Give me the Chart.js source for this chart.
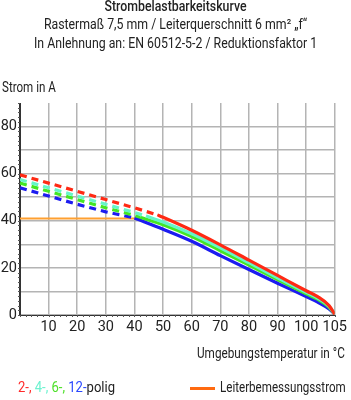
<!DOCTYPE html>
<html lang="de">
  <head>
    <meta charset="UTF-8" />
    <title>Strombelastbarkeitskurve</title>
    <script src="https://cdn.jsdelivr.net/npm/chart.js"></script>
    <style>
      body { margin: 0; background: #fff; overflow: hidden; }
      #wrap { position: relative; width: 351px; height: 400px; font-family: "Roboto", sans-serif; color: #222; }
      #grafico { position: absolute; left: 0; top: 0; }
      .txt { position: absolute; white-space: nowrap; transform-origin: left top; }
      #titulo { left: 0; width: 399px; top: -3px; text-align: center; font-size: 14px; line-height: 18.3px; transform: scaleX(0.88); }
      #titulo b { font-weight: 500; }
      #eixoY { left: 2px; top: 79px; font-size: 14.5px; transform: scaleX(0.8); }
      #eixoX { left: 197px; top: 345px; font-size: 14.5px; transform: scaleX(0.81); }
      #legPolig { left: 18px; top: 379px; font-size: 14.5px; transform: scaleX(0.9); }
      #legLinha { left: 190px; top: 387px; width: 25px; height: 3px; background: #ff6a10; }
      #legTexto { left: 220px; top: 379px; font-size: 14.5px; transform: scaleX(0.8); }
    </style>
  </head>
  <body>
    <div id="wrap">
      <canvas id="grafico" width="351" height="400"></canvas>
      <div class="txt" id="titulo">
        <b>Strombelastbarkeitskurve</b><br />
        Rastermaß 7,5 mm / Leiterquerschnitt 6 mm² „f“<br />
        In Anlehnung an: EN 60512-5-2 / Reduktionsfaktor 1
      </div>
      <div class="txt" id="eixoY">Strom in A</div>
      <div class="txt" id="eixoX">Umgebungstemperatur in °C</div>
      <div class="txt" id="legPolig"><span style="color:#ff2a2a">2-,</span> <span style="color:#6ef2d0">4-,</span> <span style="color:#4ee02a">6-,</span> <span style="color:#2a48ff">12-</span>polig</div>
      <div class="txt" id="legLinha"></div>
      <div class="txt" id="legTexto">Leiterbemessungsstrom</div>
    </div>
  </body>
</html>

<script>
  // temperatura (°C) e corrente (A)
  const temp2 = [0, 10, 20, 30, 40, 48, 50, 60, 70, 80, 90, 100, 102, 104, 105];
  const amp2 = [59.5, 56, 52.5, 49, 45.5, 42.5, 41.5, 36, 29.8, 23.3, 16.8, 10.3, 7.8, 4, 0.3];
  const temp4 = [0, 10, 20, 30, 40, 44, 50, 60, 70, 80, 90, 100, 102, 104, 105];
  const amp4 = [57.5, 54, 50.5, 47, 43.5, 42, 39.5, 34.5, 28.5, 22.2, 15.8, 9.6, 7.2, 3.7, 0.3];
  const temp6 = [0, 10, 20, 30, 40, 42, 50, 60, 70, 80, 90, 100, 102, 104, 105];
  const amp6 = [56, 52.5, 49, 45.5, 42.3, 41.5, 38.3, 33.3, 27.3, 21.2, 15, 9, 6.7, 3.3, 0.3];
  const temp12 = [0, 10, 20, 30, 40, 50, 60, 70, 80, 90, 100, 102, 104, 105];
  const amp12 = [54, 50.5, 47, 43.8, 41.2, 36.4, 31.3, 25.2, 19.3, 13.5, 7.8, 5.5, 2.6, 0.3];
  // fim do trecho tracejado de cada curva
  const joelho = [48, 44, 42, 40];
  const cores = ["#ff2a14", "#66f5c8", "#44e624", "#1c1cf0"];

  const tempNominal = [0, 42];
  const ampNominal = [41, 41];

  const xTicks = [0, 10, 20, 30, 40, 50, 60, 70, 80, 90, 100, 105];

  // eixo x: de 100 a 105 ocupa a largura de 10 graus
  function posX(t) {
    return t <= 100 ? t : 100 + (t - 100) * 2;
  }
  function rotuloX(v) {
    if (v == 0) return "";
    if (v > 100) return String(100 + (v - 100) / 2);
    return String(v);
  }

  function pontos(temps, amps, filtro) {
    const lista = [];
    for (let i = 0; i < temps.length; i++) {
      if (filtro(temps[i])) lista.push({ x: posX(temps[i]), y: amps[i] });
    }
    return lista;
  }

  const series = [
    [temp2, amp2],
    [temp4, amp4],
    [temp6, amp6],
    [temp12, amp12],
  ];

  const datasets = [];
  series.forEach((s, i) => {
    datasets.push({
      data: pontos(s[0], s[1], (t) => t <= joelho[i]),
      borderColor: cores[i],
      borderWidth: 3.2,
      borderDash: [7, 5],
      pointRadius: 0,
      order: i + 1,
    });
    datasets.push({
      data: pontos(s[0], s[1], (t) => t >= joelho[i]),
      borderColor: cores[i],
      borderWidth: 3.2,
      pointRadius: 0,
      cubicInterpolationMode: "monotone",
      order: i + 1,
    });
  });
  datasets.push({
    data: pontos(tempNominal, ampNominal, () => true),
    borderColor: "#ffa030",
    borderWidth: 2,
    pointRadius: 0,
    order: 9,
  });

  // tracinhos pequenos nos eixos
  const marcasMenores = {
    id: "marcasMenores",
    afterDraw(chart) {
      const ctx = chart.ctx;
      const sx = chart.scales.x;
      const sy = chart.scales.y;
      const area = chart.chartArea;
      ctx.save();
      ctx.fillStyle = "#555";
      for (let v = 0; v <= 90; v += 2) {
        const y = sy.getPixelForValue(v);
        ctx.fillRect(area.left - 2, Math.round(y), 2, 1);
      }
      for (let v = 0; v <= 110; v += 2) {
        const x = sx.getPixelForValue(v);
        ctx.fillRect(Math.round(x), area.bottom, 1, 2);
      }
      ctx.restore();
    },
  };

  const fonteEixo = { family: "Roboto, sans-serif", size: 14.5 };

  new Chart(document.getElementById("grafico"), {
    type: "line",
    data: { datasets: datasets },
    options: {
      responsive: false,
      animation: false,
      layout: { padding: { top: 103, right: 4, left: 0, bottom: 0 } },
      plugins: { legend: { display: false }, tooltip: { enabled: false } },
      scales: {
        x: {
          type: "linear",
          min: 0,
          max: 110,
          afterFit: (s) => { s.height = 85; },
          afterBuildTicks: (s) => { s.ticks = xTicks.map((t) => ({ value: posX(t) })); },
          ticks: {
            autoSkip: false,
            maxRotation: 0,
            padding: 4,
            color: "#222",
            font: fonteEixo,
            callback: (v) => rotuloX(v),
          },
          grid: { color: (c) => (c.tick && c.tick.value == 0 ? "#333" : "#b4b4b4"), lineWidth: 1.5, drawTicks: false },
          border: { color: "#333", width: 1 },
        },
        y: {
          min: 0,
          max: 90,
          afterFit: (s) => { s.width = 20; },
          ticks: {
            stepSize: 10,
            padding: 3,
            color: "#222",
            font: fonteEixo,
            callback: (v) => (v % 20 == 0 ? v : ""),
          },
          grid: { color: (c) => (c.tick && c.tick.value == 90 ? "rgba(0,0,0,0)" : "#b4b4b4"), lineWidth: 1.5, drawTicks: false },
          border: { color: "#333", width: 1 },
        },
      },
    },
    plugins: [marcasMenores],
  });
</script>
